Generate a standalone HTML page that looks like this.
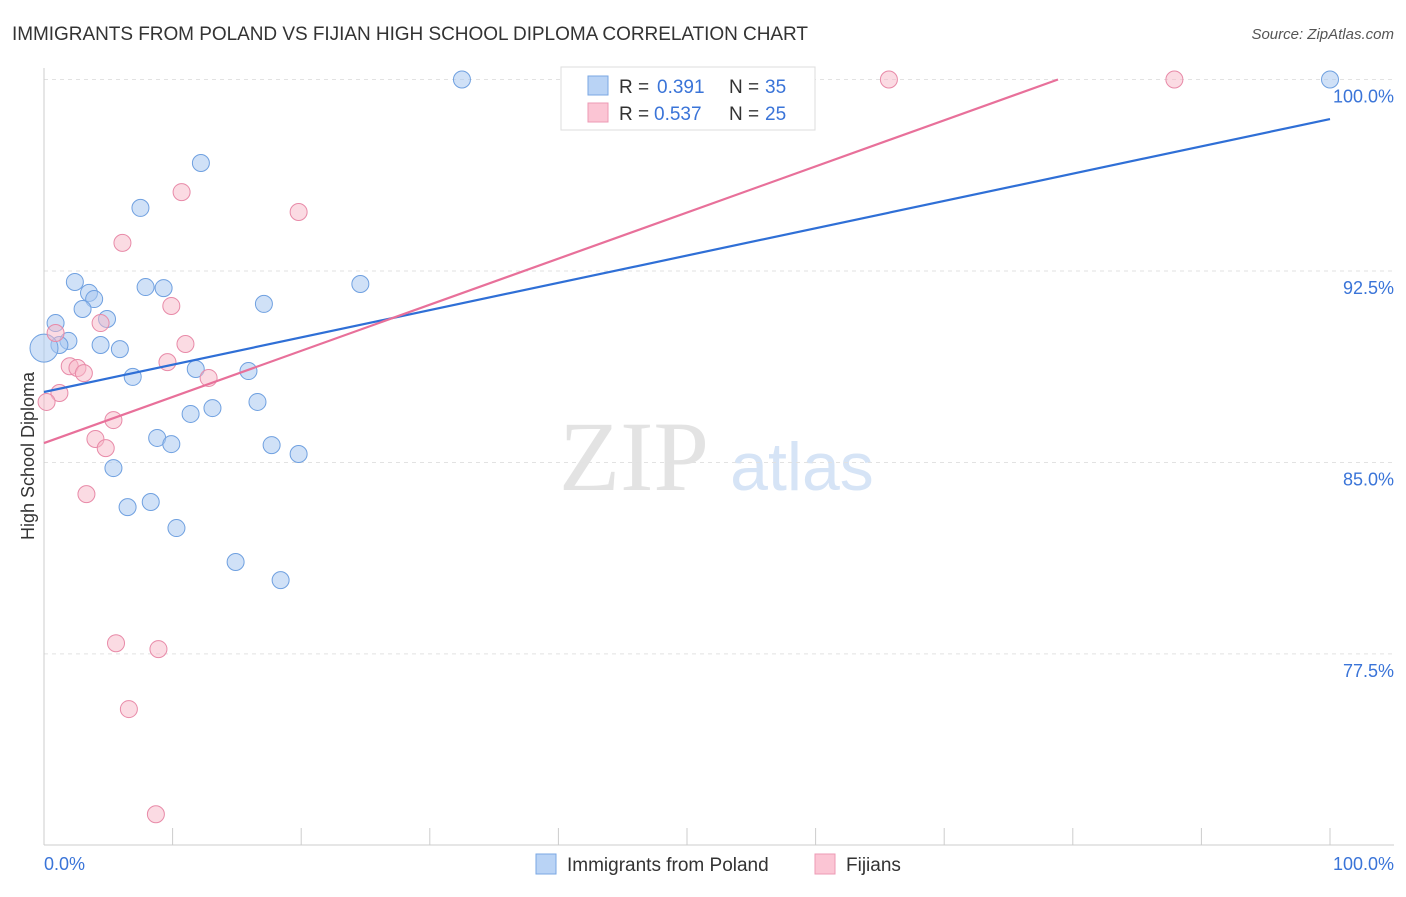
<!DOCTYPE html>
<html><head><meta charset="utf-8"><style>
body{margin:0;background:#fff;font-family:"Liberation Sans",sans-serif;}
</style></head><body>
<svg width="1406" height="892" xmlns="http://www.w3.org/2000/svg" id="chart">
<text x="12" y="40" font-size="19" fill="#333" textLength="796">IMMIGRANTS FROM POLAND VS FIJIAN HIGH SCHOOL DIPLOMA CORRELATION CHART</text>
<text x="1394" y="39" font-size="15" fill="#555" font-style="italic" text-anchor="end">Source: ZipAtlas.com</text>
<text x="634" y="490" font-size="100" fill="#e3e3e3" font-family="Liberation Serif" text-anchor="middle">ZIP</text>
<text x="802" y="490" font-size="68" fill="#d6e4f6" text-anchor="middle">atlas</text>
<text transform="translate(34,456) rotate(-90)" font-size="18" fill="#333" text-anchor="middle">High School Diploma</text>
<g id="grid"></g><g id="marks"></g>
<g>
<rect x="561" y="67" width="254" height="63" fill="#fff" stroke="#ddd"/>
<rect x="588" y="76" width="20" height="19" fill="#b9d3f5" stroke="#7aa7e3"/>
<rect x="588" y="103" width="20" height="19" fill="#fbc5d4" stroke="#ec9ab4"/>
<g font-size="19">
<text x="619" y="93" fill="#333">R =</text><text x="657" y="93" fill="#3a74d8">0.391</text>
<text x="729" y="93" fill="#333">N =</text><text x="765" y="93" fill="#3a74d8">35</text></g>
<g font-size="19">
<text x="619" y="120" fill="#333">R =</text><text x="654" y="120" fill="#3a74d8">0.537</text>
<text x="729" y="120" fill="#333">N =</text><text x="765" y="120" fill="#3a74d8">25</text></g>
</g>
<g>
<rect x="536" y="854" width="20" height="20" fill="#b9d3f5" stroke="#7aa7e3"/>
<text x="567" y="871" font-size="19" fill="#333">Immigrants from Poland</text>
<rect x="815" y="854" width="20" height="20" fill="#fbc5d4" stroke="#ec9ab4"/>
<text x="846" y="871" font-size="19" fill="#333">Fijians</text>
</g>
<text x="44" y="870" font-size="18" fill="#3a74d8">0.0%</text>
<text x="1394" y="870" font-size="18" fill="#3a74d8" text-anchor="end">100.0%</text>
</svg>
<script>
const yTicks=[100,92.5,85,77.5];
const yTickLabels=["100.0%","92.5%","85.0%","77.5%"];
const xTicks=[0,10,20,30,40,50,60,70,80,90,100];
const polandX=[32.5,100,12.2,7.5,2.4,3.5,3.9,7.9,9.3,24.6,17.1,3.0,4.9,0.9,1.9,1.2,4.4,5.9,0.0,11.8,15.9,6.9,16.6,13.1,11.4,8.8,9.9,17.7,19.8,5.4,8.3,6.5,10.3,14.9,18.4];
const polandY=[100,100,96.73,94.97,92.07,91.64,91.40,91.87,91.83,91.99,91.21,91.01,90.62,90.46,89.76,89.60,89.60,89.44,89.48,88.66,88.58,88.35,87.37,87.13,86.90,85.96,85.72,85.68,85.33,84.78,83.45,83.25,82.43,81.10,80.39];
const polandSize=[1,1,1,1,1,1,1,1,1,1,1,1,1,1,1,1,1,1,2,1,1,1,1,1,1,1,1,1,1,1,1,1,1,1,1];
const fijiX=[65.7,87.9,10.7,19.8,6.1,9.9,4.4,0.9,11.0,9.6,2.0,2.6,3.1,12.8,1.2,0.2,5.4,4.0,4.8,3.3,5.6,8.9,6.6,8.7];
const fijiY=[100,100,95.59,94.81,93.60,91.13,90.46,90.07,89.64,88.93,88.77,88.70,88.50,88.31,87.72,87.37,86.66,85.92,85.56,83.76,77.92,77.69,75.34,71.22];
const polandTrend=[87.76,98.45];
const fijiTrend=[85.76,0.1806];
const NS="http://www.w3.org/2000/svg";
const X=v=>44+v*12.86, Y=v=>79.5+(100-v)*25.53;
function mk(t,a,p){const e=document.createElementNS(NS,t);for(const k in a)e.setAttribute(k,a[k]);p.appendChild(e);return e;}
const grid=document.getElementById('grid'),marks=document.getElementById('marks');
yTicks.forEach((t,i)=>{
 const l=mk('line',{x1:44,x2:1394,y1:Y(t),y2:Y(t),stroke:'#e2e2e2','stroke-dasharray':'4,4'},grid);
 
 
 const tx=mk('text',{x:1394,y:Y(t)+23,'font-size':18,fill:'#3a74d8','text-anchor':'end'},grid);tx.textContent=yTickLabels[i];
 
 
});
xTicks.forEach(t=>{
 const l=mk('line',{x1:X(t),x2:X(t),y1:828,y2:845,stroke:'#ccc'},grid);
 
 
});
let a=mk('line',{x1:44,x2:44,y1:68,y2:845,stroke:'#ccc'},grid);


a=mk('line',{x1:44,x2:1394,y1:845,y2:845,stroke:'#ccc'},grid);


polandX.forEach((x,i)=>{
 const c=mk('circle',{cx:X(x),cy:Y(polandY[i]),r:polandSize[i]>1?14:8.5,fill:'#a9c8f0','fill-opacity':0.55,stroke:'#6fa0e0','stroke-width':1},marks);
 
 
});
fijiX.forEach((x,i)=>{
 const c=mk('circle',{cx:X(x),cy:Y(fijiY[i]),r:8.5,fill:'#f7b8c8','fill-opacity':0.5,stroke:'#e88aa8','stroke-width':1},marks);
 
 
});
let tl=mk('line',{x1:X(0),y1:Y(polandTrend[0]),x2:X(100),y2:Y(polandTrend[1]),stroke:'#2f6fd6','stroke-width':2.2},marks);


const fx=(100-fijiTrend[0])/fijiTrend[1];
tl=mk('line',{x1:X(0),y1:Y(fijiTrend[0]),x2:X(fx),y2:Y(100),stroke:'#e8709a','stroke-width':2.2},marks);


</script>
</body></html>
